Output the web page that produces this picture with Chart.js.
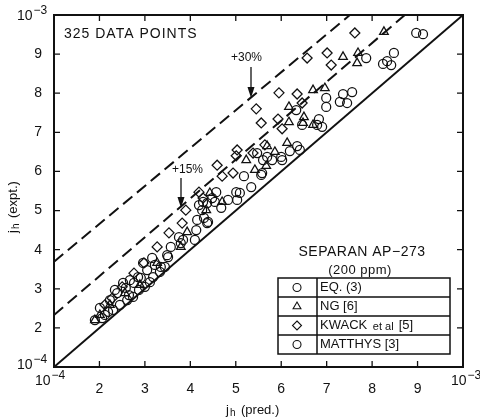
<!DOCTYPE html>
<html>
<head>
<meta charset="utf-8">
<script src="https://cdn.jsdelivr.net/npm/chart.js@4.4.0/dist/chart.umd.min.js"></script>
<style>
  body { margin: 0; background: #fff; }
  #wrap { width: 480px; height: 417px; }
</style>
</head>
<body>
<div id="wrap"><canvas id="jhChart" width="480" height="417"></canvas></div>
<script>
// values in units of 1e-4
const tickValues = [1, 2, 3, 4, 5, 6, 7, 8, 9, 10];
const decadeLabels = { 1: '\u22124', 10: '\u22123' };

const eqX = [8.97, 9.12, 8.48, 8.33, 8.42, 8.24, 7.87, 7.36, 7.56, 7.45, 7.29, 6.99, 6.99, 6.33, 6.46, 6.83, 6.79, 6.90, 6.35, 6.19,
  6.02, 6.41, 6.00, 5.80, 5.60, 5.69, 5.47, 5.58, 5.18, 5.56, 5.34, 5.09, 5.01, 4.68, 5.03, 4.57, 4.37, 4.19, 4.30, 4.13, 4.37];
const eqY = [9.54, 9.51, 9.03, 8.82, 8.72, 8.75, 8.90, 7.98, 8.03, 7.75, 7.78, 7.88, 7.65, 7.57, 7.19, 7.34, 7.19, 7.14, 6.65, 6.52,
  6.29, 6.55, 6.37, 6.29, 6.29, 6.37, 6.47, 5.96, 5.88, 5.91, 5.60, 5.45, 5.47, 5.07, 5.27, 5.47, 5.19, 5.14, 4.81, 4.50, 4.68];

const ngX = [8.26, 7.36, 7.69, 7.67, 6.70, 6.96, 6.17, 6.50, 6.17, 6.48, 6.70, 5.69, 5.86, 6.13, 5.23, 5.67, 5.42, 4.70, 4.43, 4.35,
  3.93, 3.79, 3.27, 2.89, 2.56, 2.23, 2.01, 1.90];
const ngY = [9.57, 8.93, 9.03, 8.77, 8.08, 8.13, 7.65, 7.39, 7.26, 7.24, 7.19, 6.65, 6.50, 6.73, 6.29, 6.14, 6.04, 5.22, 5.45, 5.01,
  4.45, 4.07, 3.66, 3.10, 2.89, 2.59, 2.33, 2.20];

const kwackX = [7.62, 6.57, 7.01, 7.10, 5.95, 6.35, 6.46, 5.45, 5.56, 5.93, 6.02, 5.03, 4.59, 5.01, 4.70, 4.94, 4.19, 4.28, 3.90, 3.82,
  3.53, 3.27, 2.98, 2.76, 2.50, 5.38, 5.64, 2.28, 2.12];
const kwackY = [9.54, 8.90, 9.03, 8.72, 8.01, 7.98, 7.75, 7.60, 7.24, 7.34, 7.09, 6.55, 6.16, 6.40, 5.88, 5.96, 5.47, 5.32, 5.01, 4.68,
  4.43, 4.07, 3.66, 3.40, 3.05, 6.47, 6.68, 2.76, 2.59];

const matthysX = [3.75, 3.79, 3.57, 3.49, 3.35, 3.16, 3.05, 2.91, 2.76, 2.58, 2.39, 2.65, 2.87, 3.00, 3.11, 3.18, 3.33, 3.44, 3.51, 3.22,
  2.96, 2.52, 2.67, 2.85, 2.74, 2.61, 2.45, 2.30, 2.12, 2.06, 1.90, 2.01, 2.23, 2.34, 2.19, 4.15, 4.39, 4.10, 3.84, 4.48,
  4.28, 4.26, 4.54, 4.83];
const matthysY = [4.32, 4.17, 4.07, 3.86, 3.56, 3.79, 3.48, 3.28, 3.15, 3.02, 2.89, 2.84, 2.97, 3.05, 3.17, 3.30, 3.43, 3.56, 3.81, 3.61,
  3.66, 3.15, 3.22, 3.30, 2.79, 2.71, 2.59, 2.46, 2.33, 2.25, 2.20, 2.51, 2.71, 2.97, 2.41, 4.76, 4.71, 4.25, 4.25, 5.32,
  5.22, 5.01, 5.22, 5.27];

// reference lines
const equalLine = [[1, 1], [10, 10]];
const line15 = [[1, 2.33], [8.72, 10]];
const line30 = [[1, 3.69], [7.51, 10]];

const legendRows = [
  { label: 'EQ. (3)', style: 'circle' },
  { label: 'NG [6]', style: 'triangle' },
  { label: 'KWACK et al [5]', style: 'rectRot' },
  { label: 'MATTHYS [3]', style: 'circle' }
];

const FONT = '"Liberation Sans", Arial, sans-serif';
const toPts = (xs, ys) => xs.map((x, i) => ({ x: x, y: ys[i] }));
const toLine = pairs => pairs.map(p => ({ x: p[0], y: p[1] }));

function markerSet(label, xs, ys, style, r) {
  return {
    label: label,
    data: toPts(xs, ys),
    pointStyle: style,
    pointRadius: r,
    pointBorderWidth: 1.25,
    pointBorderColor: '#111',
    pointBackgroundColor: 'rgba(255,255,255,0)',
    showLine: false
  };
}

function lineSet(label, pairs, dash) {
  return {
    label: label,
    data: toLine(pairs),
    showLine: true,
    borderColor: '#111',
    borderWidth: 2,
    borderDash: dash,
    pointRadius: 0
  };
}

function shape(ctx, style, x, y, r) {
  ctx.beginPath();
  if (style === 'circle') {
    ctx.arc(x, y, r, 0, Math.PI * 2);
  } else if (style === 'triangle') {
    ctx.moveTo(x, y - r);
    ctx.lineTo(x + r * 0.87, y + r * 0.5);
    ctx.lineTo(x - r * 0.87, y + r * 0.5);
    ctx.closePath();
  } else {
    ctx.moveTo(x, y - r);
    ctx.lineTo(x + r, y);
    ctx.lineTo(x, y + r);
    ctx.lineTo(x - r, y);
    ctx.closePath();
  }
  ctx.stroke();
}

function arrow(ctx, x, y0, y1) {
  ctx.beginPath();
  ctx.moveTo(x, y0);
  ctx.lineTo(x, y1 - 6);
  ctx.stroke();
  ctx.beginPath();
  ctx.moveTo(x - 3.5, y1 - 11);
  ctx.lineTo(x + 3.5, y1 - 11);
  ctx.lineTo(x, y1);
  ctx.closePath();
  ctx.fill();
}

// "10" with a raised exponent, left edge at x
function decade(ctx, x, y, exp) {
  ctx.textAlign = 'left';
  ctx.font = '14px ' + FONT;
  ctx.fillText('10', x, y);
  const w = ctx.measureText('10').width;
  ctx.font = '12px ' + FONT;
  ctx.fillText(exp, x + w + 1, y - 5);
  ctx.font = '14px ' + FONT;
}

const decorations = {
  id: 'decorations',
  afterDraw(chart) {
    const ctx = chart.ctx;
    const a = chart.chartArea;
    const xs = chart.scales.x;
    const ys = chart.scales.y;
    ctx.save();
    ctx.strokeStyle = '#111';
    ctx.fillStyle = '#111';

    // frame
    ctx.lineWidth = 2;
    ctx.strokeRect(a.left, a.top, a.right - a.left, a.bottom - a.top);

    // inward ticks on all sides
    ctx.lineWidth = 1.3;
    tickValues.slice(1, -1).forEach(v => {
      const px = xs.getPixelForValue(v);
      const py = ys.getPixelForValue(v);
      ctx.beginPath();
      ctx.moveTo(px, a.bottom); ctx.lineTo(px, a.bottom - 6);
      ctx.moveTo(px, a.top); ctx.lineTo(px, a.top + 6);
      ctx.moveTo(a.left, py); ctx.lineTo(a.left + 6, py);
      ctx.moveTo(a.right, py); ctx.lineTo(a.right - 6, py);
      ctx.stroke();
    });

    // decade labels at the ends of both axes
    ctx.textBaseline = 'middle';
    decade(ctx, xs.getPixelForValue(1) - 19, a.bottom + 14, decadeLabels[1]);
    decade(ctx, xs.getPixelForValue(10) - 12, a.bottom + 14, decadeLabels[10]);
    decade(ctx, 17, ys.getPixelForValue(1) - 2, decadeLabels[1]);
    decade(ctx, 17, ys.getPixelForValue(10) + 1, decadeLabels[10]);

    // annotations
    ctx.textAlign = 'left';
    ctx.font = '14px ' + FONT;
    ctx.letterSpacing = '1px';
    ctx.fillText('325 DATA POINTS', 64, 34);
    ctx.letterSpacing = '0px';
    ctx.font = '12px ' + FONT;
    ctx.fillText('+30%', 231, 58);
    ctx.fillText('+15%', 172, 170);
    ctx.lineWidth = 1.3;
    arrow(ctx, 251, 67, 98);
    arrow(ctx, 181, 178, 208);

    // axis titles
    ctx.font = '13px ' + FONT;
    ctx.fillText('j', 226, 410);
    ctx.font = '10px ' + FONT;
    ctx.fillText('h', 230, 413);
    ctx.font = '13px ' + FONT;
    ctx.fillText('(pred.)', 241, 410);

    ctx.save();
    ctx.translate(13, 233);
    ctx.rotate(-Math.PI / 2);
    ctx.fillText('j', 0, 0);
    ctx.font = '10px ' + FONT;
    ctx.fillText('h', 4, 3);
    ctx.font = '13px ' + FONT;
    ctx.fillText('(expt.)', 15, 0);
    ctx.restore();

    // legend block
    ctx.textAlign = 'center';
    ctx.font = '14px ' + FONT;
    ctx.letterSpacing = '0.5px';
    ctx.fillText('SEPARAN AP\u2212273', 362, 252);
    ctx.font = '13px ' + FONT;
    ctx.fillText('(200 ppm)', 360, 270);
    ctx.letterSpacing = '0px';

    const bx = 278, by = 278, bw = 172, rh = 19, div = 317;
    ctx.lineWidth = 1.5;
    ctx.strokeRect(bx, by, bw, rh * legendRows.length);
    ctx.beginPath();
    ctx.moveTo(div, by); ctx.lineTo(div, by + rh * legendRows.length);
    for (let i = 1; i < legendRows.length; i++) {
      ctx.moveTo(bx, by + rh * i); ctx.lineTo(bx + bw, by + rh * i);
    }
    ctx.stroke();
    ctx.textAlign = 'left';
    ctx.lineWidth = 1.1;
    legendRows.forEach((row, i) => {
      const cy = by + rh * i + rh / 2;
      shape(ctx, row.style, 297, cy, row.style === 'circle' ? 4 : 4.5);
      ctx.font = '13px ' + FONT;
      if (row.label.indexOf(' et al') > 0) {
        ctx.fillText('KWACK', 320, cy);
        let x = 320 + ctx.measureText('KWACK ').width + 2;
        ctx.font = '11px ' + FONT;
        ctx.fillText('et al', x, cy + 1);
        x += ctx.measureText('et al ').width + 2;
        ctx.font = '13px ' + FONT;
        ctx.fillText('[5]', x, cy);
      } else {
        ctx.fillText(row.label, 320, cy);
      }
    });
    ctx.restore();
  }
};

const ctx = document.getElementById('jhChart').getContext('2d');
const jhChart = new Chart(ctx, {
  type: 'scatter',
  data: {
    datasets: [
      lineSet('equal', equalLine, []),
      lineSet('+15%', line15, [12, 6]),
      lineSet('+30%', line30, [12, 6]),
      markerSet(legendRows[0].label, eqX, eqY, 'circle', 4.5),
      markerSet(legendRows[1].label, ngX, ngY, 'triangle', 5),
      markerSet(legendRows[2].label, kwackX, kwackY, 'rectRot', 5),
      markerSet(legendRows[3].label, matthysX, matthysY, 'circle', 4.5)
    ]
  },
  options: {
    responsive: false,
    animation: false,
    layout: { padding: { top: 15, right: 17, left: 0, bottom: 0 } },
    plugins: { legend: { display: false }, tooltip: { enabled: false } },
    scales: {
      x: {
        type: 'linear',
        min: 1,
        max: 10,
        afterFit: s => { s.height = 50; },
        afterBuildTicks: s => { s.ticks = tickValues.map(v => ({ value: v })); },
        grid: { display: false },
        border: { display: false },
        ticks: {
          padding: 6,
          color: '#111',
          font: { family: FONT, size: 14 },
          maxRotation: 0,
          autoSkip: false,
          callback: v => (v === 1 || v === 10) ? '' : String(v)
        }
      },
      y: {
        type: 'linear',
        min: 1,
        max: 10,
        afterFit: s => { s.width = 54; },
        afterBuildTicks: s => { s.ticks = tickValues.map(v => ({ value: v })); },
        grid: { display: false },
        border: { display: false },
        ticks: {
          padding: 4,
          color: '#111',
          font: { family: FONT, size: 14 },
          autoSkip: false,
          callback: v => (v === 1 || v === 10) ? '' : String(v)
        }
      }
    }
  },
  plugins: [decorations]
});
</script>
</body>
</html>
